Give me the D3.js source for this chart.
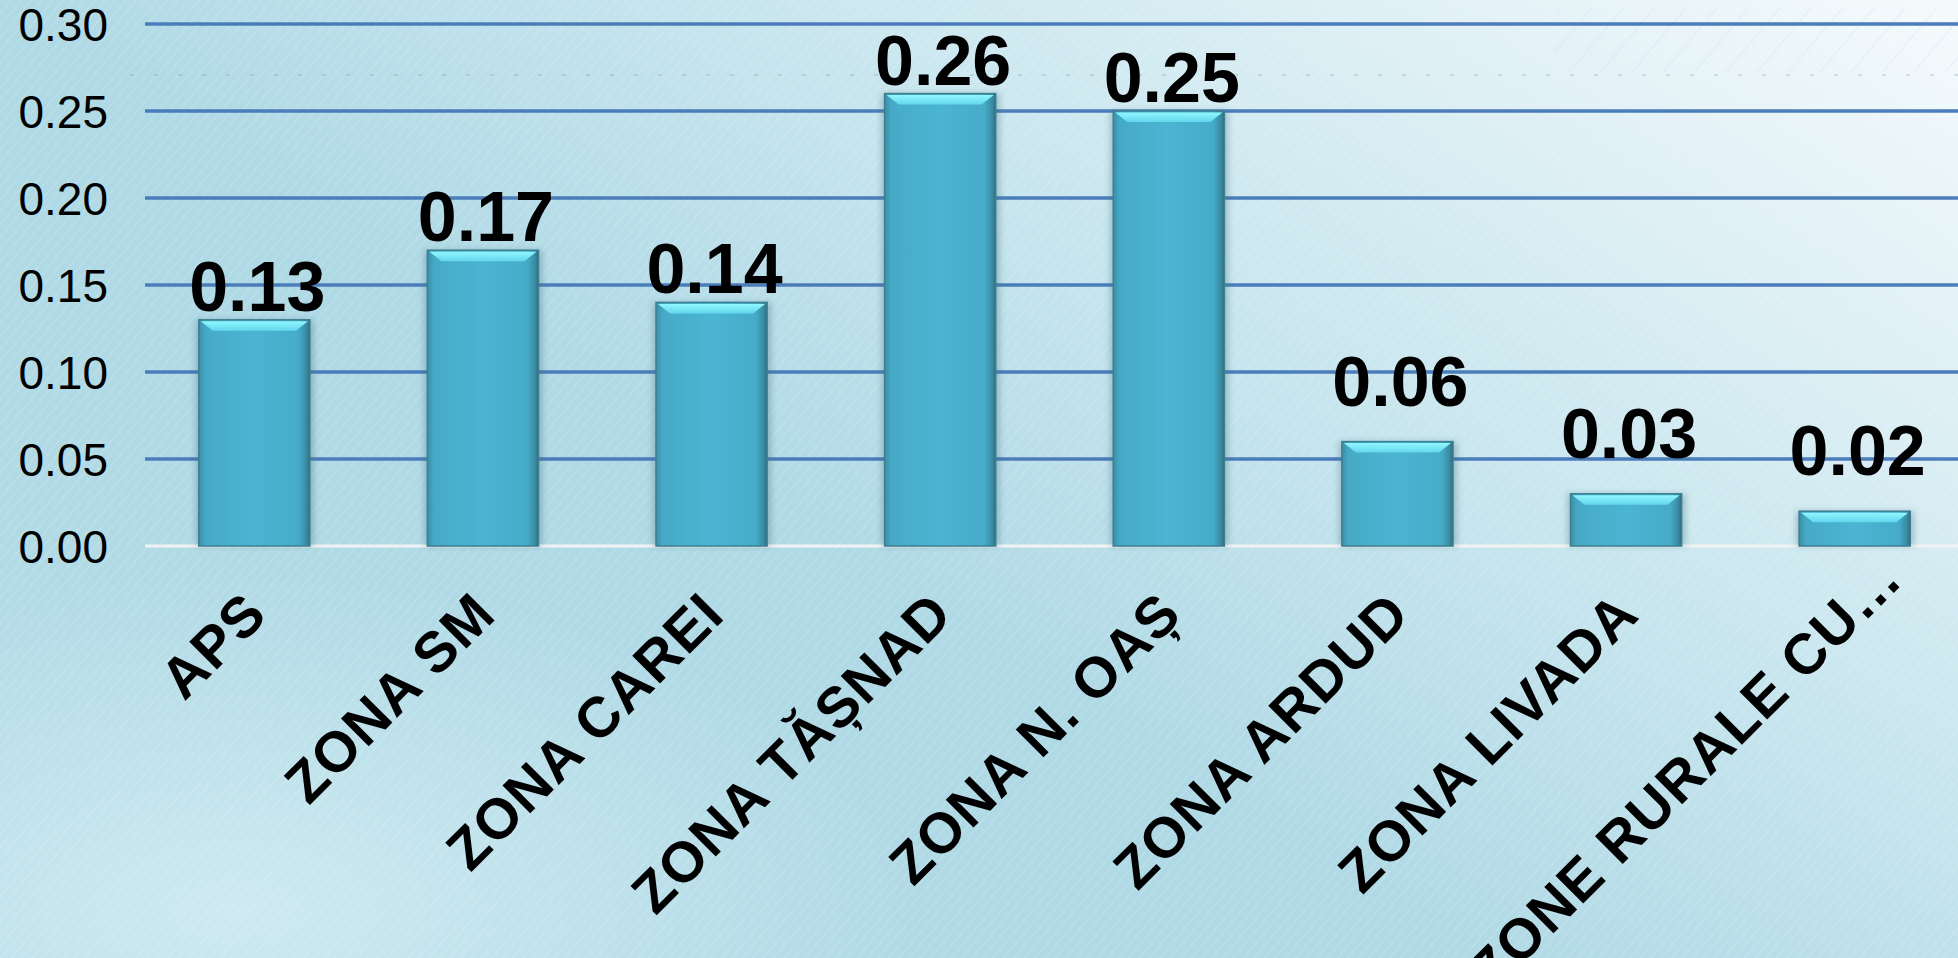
<!DOCTYPE html>
<html>
<head>
<meta charset="utf-8">
<script src="https://cdnjs.cloudflare.com/ajax/libs/d3/7.8.5/d3.min.js"></script>
<style>
  html, body { margin: 0; padding: 0; overflow: hidden; background: #ffffff; }
  svg { display: block; }
</style>
</head>
<body>
<svg id="chart" width="1958" height="958"></svg>
<script>
// ---- data ----
const categories = ["APS", "ZONA SM", "ZONA CAREI", "ZONA TĂȘNAD", "ZONA N. OAȘ", "ZONA ARDUD", "ZONA LIVADA", "ZONE RURALE CU…"];
const values = [0.13, 0.17, 0.14, 0.26, 0.25, 0.06, 0.03, 0.02];
const yTicks = [0.00, 0.05, 0.10, 0.15, 0.20, 0.25, 0.30];
const yDomain = [0, 0.30];

// ---- setup ----
const W = 1958, H = 958;
const svg = d3.select("#chart");
const defs = svg.append("defs");

const x = d3.scaleBand().domain(categories).range([140, 1969]).paddingInner(0.514).paddingOuter(0.257);
const y = d3.scaleLinear().domain(yDomain).range([546, 24]);
const FONT = "'Liberation Sans', Arial, Helvetica, sans-serif";

// background gradient
const bg = defs.append("linearGradient").attr("id", "bg")
  .attr("x1", "0").attr("y1", "0.75").attr("x2", "1").attr("y2", "0");
[[0, "#b3dbe6"], [0.35, "#afd9e5"], [0.65, "#cde8f0"], [1, "#f5fafc"]].forEach(s =>
  bg.append("stop").attr("offset", s[0]).attr("stop-color", s[1]));
const rg = defs.append("radialGradient").attr("id", "bgl")
  .attr("cx", "0.12").attr("cy", "0.95").attr("r", "0.35");
rg.append("stop").attr("offset", 0).attr("stop-color", "#d2ecf3").attr("stop-opacity", 0.85);
rg.append("stop").attr("offset", 1).attr("stop-color", "#d2ecf3").attr("stop-opacity", 0);

// diagonal hatch
const pat = defs.append("pattern").attr("id", "hatch").attr("patternUnits", "userSpaceOnUse")
  .attr("width", 8).attr("height", 8).attr("patternTransform", "rotate(40)");
pat.append("line").attr("x1", 0).attr("y1", 0).attr("x2", 0).attr("y2", 8)
  .attr("stroke", "#ffffff").attr("stroke-width", 1).attr("stroke-opacity", 0.35);
const pat2 = defs.append("pattern").attr("id", "hatch2").attr("patternUnits", "userSpaceOnUse")
  .attr("width", 24).attr("height", 24).attr("patternTransform", "rotate(40)");
pat2.append("line").attr("x1", 0).attr("y1", 0).attr("x2", 0).attr("y2", 24)
  .attr("stroke", "#9fb4e2").attr("stroke-width", 1).attr("stroke-opacity", 0.35);

svg.append("rect").attr("width", W).attr("height", H).attr("fill", "url(#bg)");
svg.append("rect").attr("width", W).attr("height", H).attr("fill", "url(#bgl)");
svg.append("rect").attr("width", W).attr("height", H).attr("fill", "url(#hatch)");
svg.append("rect").attr("x", 1555).attr("y", 8).attr("width", W - 1555).attr("height", 64).attr("fill", "url(#hatch2)");
svg.append("line").attr("x1", 130).attr("x2", W).attr("y1", 75).attr("y2", 75)
  .attr("stroke", "#7d8f96").attr("stroke-width", 1.2).attr("stroke-dasharray", "4,20").attr("stroke-opacity", 0.5);

// gridlines
const grid = svg.append("g");
grid.selectAll("line.g").data(yTicks.filter(t => t > 0)).join("line")
  .attr("x1", 145).attr("x2", W).attr("y1", d => y(d)).attr("y2", d => y(d))
  .attr("stroke", "#4a7dba").attr("stroke-width", 3.5);
grid.append("line").attr("x1", 145).attr("x2", W).attr("y1", y(0)).attr("y2", y(0))
  .attr("stroke", "#f1f3f3").attr("stroke-width", 3);

// y axis labels
const yAxis = svg.append("g").attr("transform", "translate(108,0)")
  .call(d3.axisLeft(y).tickValues(yTicks).tickFormat(d3.format(".2f")).tickSize(0).tickPadding(0));
yAxis.select(".domain").remove();
yAxis.selectAll("text").attr("font-family", FONT).attr("font-size", 46).attr("fill", "#000").attr("dy", "0.36em");

// bar gradients
const bgGrad = defs.append("linearGradient").attr("id", "barfill").attr("x1", 0).attr("x2", 1).attr("y1", 0).attr("y2", 0);
[[0, "#3b8ea6"], [0.06, "#46aac6"], [0.5, "#4bb5d3"], [0.9, "#45abc8"], [0.97, "#3a8aa1"], [1, "#2f6b7c"]].forEach(s =>
  bgGrad.append("stop").attr("offset", s[0]).attr("stop-color", s[1]));
const topGrad = defs.append("linearGradient").attr("id", "bartop").attr("x1", 0).attr("x2", 0).attr("y1", 0).attr("y2", 1);
[[0, "#8ff7fe"], [1, "#64d6ec"]].forEach(s => topGrad.append("stop").attr("offset", s[0]).attr("stop-color", s[1]));
const sh = defs.append("filter").attr("id", "shadow").attr("x", "-20%").attr("y", "-20%").attr("width", "140%").attr("height", "140%");
sh.append("feGaussianBlur").attr("stdDeviation", 3);

// bars
const data = categories.map((c, i) => ({ c, v: values[i] }));
const bw = x.bandwidth();
const bars = svg.append("g").selectAll("g.bar").data(data).join("g").attr("class", "bar");
bars.append("rect").attr("x", d => x(d.c) - 3).attr("y", d => y(d.v)).attr("width", bw + 7)
  .attr("height", d => y(0) - y(d.v)).attr("fill", "#3f6f7a").attr("opacity", 0.35).attr("filter", "url(#shadow)");
bars.append("rect").attr("x", d => x(d.c)).attr("y", d => y(d.v)).attr("width", bw)
  .attr("height", d => y(0) - y(d.v)).attr("fill", "url(#barfill)")
  .attr("stroke", "#3c7f90").attr("stroke-width", 1.5);
bars.append("path").attr("d", d => {
  const x0 = x(d.c), t = y(d.v), h = Math.min(11, (y(0) - y(d.v)) * 0.4);
  return `M${x0 + 2},${t + 1.5} L${x0 + bw - 2},${t + 1.5} L${x0 + bw - 14},${t + h} L${x0 + 14},${t + h} Z`;
}).attr("fill", "url(#bartop)");

// value labels
svg.append("g").selectAll("text").data(data).join("text")
  .attr("x", d => x(d.c) + bw / 2 + 3)
  .attr("y", d => y(d.v) - (d.v < 0.1 ? 36 : 9))
  .attr("text-anchor", "middle").attr("font-family", FONT).attr("font-weight", "bold")
  .attr("font-size", 70).attr("fill", "#000").text(d => d3.format(".2f")(d.v));

// category labels (truncated label sits further along its baseline, as in the source)
svg.append("g").selectAll("text").data(categories).join("text")
  .attr("transform", c => {
    const shift = c.endsWith("…") ? 35 : 0;
    return `translate(${x(c) + bw / 2 + 15 + shift},${617 - shift}) rotate(-45)`;
  })
  .attr("text-anchor", "end").attr("font-family", FONT).attr("font-weight", "bold")
  .attr("font-size", 57).attr("letter-spacing", "1px").attr("fill", "#000").text(c => c);
</script>
</body>
</html>
